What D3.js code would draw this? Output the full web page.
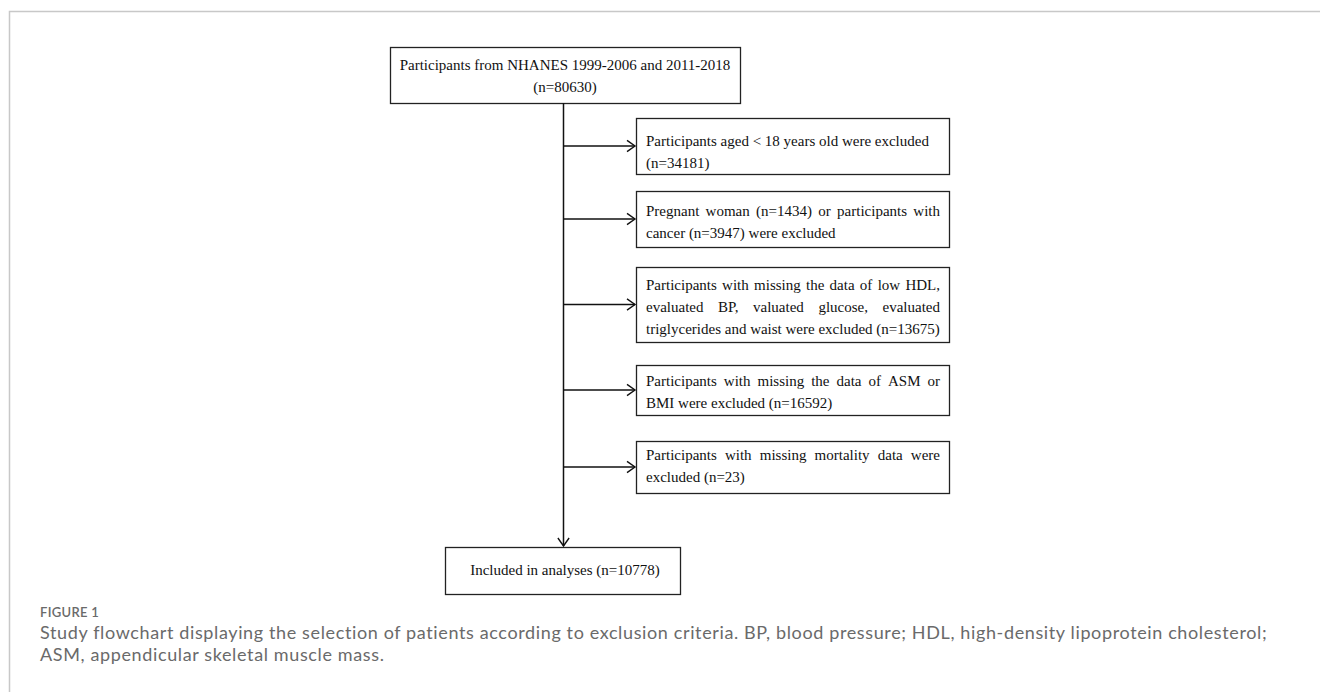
<!DOCTYPE html>
<html>
<head>
<meta charset="utf-8">
<script src="https://cdn.jsdelivr.net/npm/d3@7"></script>
<style>
  html, body { margin: 0; padding: 0; background: #fff; }
  svg { display: block; }
</style>
</head>
<body>
<div id="chart"></div>
<script>
// Flowchart data
var topLines = ["Participants from NHANES 1999-2006 and 2011-2018", "(n=80630)"];
var excludedLines = [
  ["Participants aged < 18 years old were excluded", "(n=34181)"],
  ["Pregnant woman (n=1434) or participants with", "cancer (n=3947) were excluded"],
  ["Participants with missing the data of low HDL,", "evaluated BP, valuated glucose, evaluated", "triglycerides and waist were excluded (n=13675)"],
  ["Participants with missing the data of ASM or", "BMI were excluded (n=16592)"],
  ["Participants with missing mortality data were", "excluded (n=23)"]
];
var bottomLine = "Included in analyses (n=10778)";
var captionTitle = "FIGURE 1";
var captionLines = [
  "Study flowchart displaying the selection of patients according to exclusion criteria. BP, blood pressure; HDL, high-density lipoprotein cholesterol;",
  "ASM, appendicular skeletal muscle mass."
];

// layout (positions of boxes, in px)
var width = 1320, height = 692;
var boxTops = [118, 191, 267, 365, 441];
var boxBottoms = [174, 247, 342, 415, 493];
var textBase = [146, 216, 290, 386, 460];
var justify = [false, true, true, true, true];

var svg = d3.select("#chart").append("svg")
  .attr("width", width)
  .attr("height", height);

// page frame
svg.append("path")
  .attr("d", "M9.5," + height + "V11.5H" + width)
  .attr("fill", "none")
  .attr("stroke", "#c8c8c8")
  .attr("stroke-width", 1.5);

var spineX = 563.5;
var exLeft = 636, exRight = 949;
var lineH = 22;
var fontBox = "15px 'Liberation Serif', 'Times New Roman', serif";

function arrowHead(g, x, yy, dir) {
  // open chevron
  var s = 8;
  var d = dir === "right"
    ? "M" + (x - s) + "," + (yy - s * 0.7) + "L" + x + "," + yy + "L" + (x - s) + "," + (yy + s * 0.7)
    : "M" + (x - s * 0.7) + "," + (yy - s) + "L" + x + "," + yy + "L" + (x + s * 0.7) + "," + (yy - s);
  g.append("path").attr("d", d).attr("fill", "none")
    .attr("stroke", "#111").attr("stroke-width", 1.4);
}

// top box
var topBox = svg.append("g");
topBox.append("rect")
  .attr("x", 390.5).attr("y", 47.5).attr("width", 350).attr("height", 56)
  .attr("fill", "#fff").attr("stroke", "#222").attr("stroke-width", 1.3);
topBox.selectAll("text").data(topLines).enter().append("text")
  .attr("x", 565).attr("y", function(d, i) { return 70 + i * lineH; })
  .attr("text-anchor", "middle")
  .style("font", fontBox).attr("fill", "#111")
  .text(function(d) { return d; });

// bottom box
var bottomTop = 547, bottomBot = 594;
var bot = svg.append("g");
bot.append("rect")
  .attr("x", 445.5).attr("y", bottomTop + 0.5).attr("width", 235).attr("height", bottomBot - bottomTop)
  .attr("fill", "#fff").attr("stroke", "#222").attr("stroke-width", 1.3);
bot.append("text")
  .attr("x", 565).attr("y", 575)
  .attr("text-anchor", "middle")
  .style("font", fontBox).attr("fill", "#111")
  .text(bottomLine);

// main vertical spine
svg.append("line")
  .attr("x1", spineX).attr("x2", spineX)
  .attr("y1", 103).attr("y2", bottomTop - 1)
  .attr("stroke", "#111").attr("stroke-width", 1.5);
arrowHead(svg, spineX, bottomTop - 1, "down");

// exclusion boxes
var ex = svg.selectAll("g.ex").data(excludedLines).enter().append("g").attr("class", "ex");

ex.append("rect")
  .attr("x", exLeft + 0.5)
  .attr("y", function(d, i) { return boxTops[i] + 0.5; })
  .attr("width", exRight - exLeft)
  .attr("height", function(d, i) { return boxBottoms[i] - boxTops[i]; })
  .attr("fill", "#fff").attr("stroke", "#222").attr("stroke-width", 1.3);

ex.append("line")
  .attr("x1", spineX)
  .attr("x2", exLeft - 1)
  .attr("y1", function(d, i) { return (boxTops[i] + boxBottoms[i]) / 2; })
  .attr("y2", function(d, i) { return (boxTops[i] + boxBottoms[i]) / 2; })
  .attr("stroke", "#111").attr("stroke-width", 1.5);

ex.each(function(d, i) {
  arrowHead(d3.select(this), exLeft - 1, (boxTops[i] + boxBottoms[i]) / 2, "right");
});

// text with justified lines
var textLeft = exLeft + 10, textRight = exRight - 9;
ex.each(function(lines, i) {
  var g = d3.select(this);
  lines.forEach(function(line, j) {
    var t = g.append("text")
      .attr("y", textBase[i] + j * lineH)
      .style("font", fontBox).attr("fill", "#111");
    var words = line.split(" ");
    var last = j === lines.length - 1;
    if (last || !justify[i] || words.length < 2) {
      t.attr("x", textLeft).text(line);
      return;
    }
    var spans = words.map(function(w) { return t.append("tspan").text(w); });
    var widths = spans.map(function(s) { return s.node().getComputedTextLength(); });
    var total = d3.sum(widths);
    var gap = (textRight - textLeft - total) / (words.length - 1);
    var xx = textLeft;
    spans.forEach(function(s, k) {
      s.attr("x", xx);
      xx += widths[k] + gap;
    });
  });
});

// caption
var cap = svg.append("g");
cap.append("text")
  .attr("x", 40).attr("y", 617)
  .style("font", "600 13px Lato, 'Open Sans', sans-serif")
  .style("letter-spacing", "0.3px")
  .attr("fill", "#6a6a6a")
  .text(captionTitle);
var capTexts = cap.selectAll("text.cl").data(captionLines).enter().append("text")
  .attr("class", "cl")
  .attr("x", 40).attr("y", function(d, i) { return 639 + i * 22; })
  .style("font", "18px Lato, 'Open Sans', sans-serif")
  .attr("fill", "#6a6a6a")
  .text(function(d) { return d; });

// stretch caption tracking so the first line ends where the original does
var capW = capTexts.nodes()[0].getComputedTextLength();
var capLS = (1268 - 40 - capW) / captionLines[0].length;
capTexts.style("letter-spacing", capLS + "px");
</script>
</body>
</html>
